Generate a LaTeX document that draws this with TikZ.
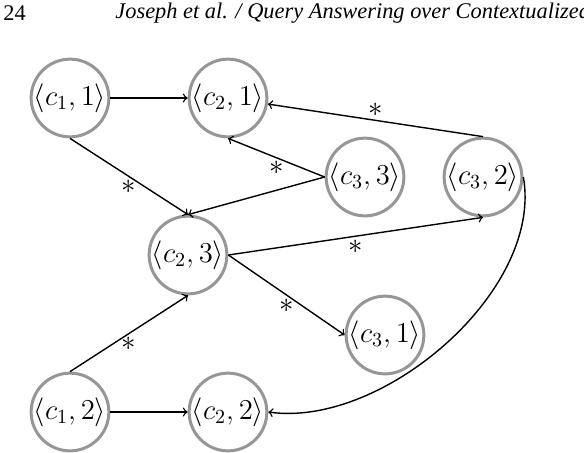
\documentclass[tikz,border=0pt]{standalone}
\usepackage{fontspec}
\newfontfamily\headfont{Liberation Serif}

\begin{document}
\begin{tikzpicture}[x=0.5pt,y=0.5pt,yscale=-1,xscale=1,
  ctx/.style={circle, draw={rgb, 255:red, 150; green, 150; blue, 150 }, line width=1.5pt, minimum size=38pt, inner sep=0pt, font=\Large},
  lbl/.style={inner sep=1.5pt, font=\Large},
  edge/.style={->, line width=0.7pt}]
\useasboundingbox (0,0) rectangle (584,452);

% Running head
\node [anchor=west, inner sep=0pt, font=\fontsize{11.2}{13}\selectfont] (page) at (3,13) {\headfont 24};
\node [anchor=west, inner sep=0pt, font=\fontsize{11.2}{13}\selectfont] (head) at (115,13) {\headfont\itshape Joseph et al. / Query Answering over Contextualized};

% Context nodes
\node [ctx] (c11) at (70,98) {$\langle c_1,1\rangle$};
\node [ctx] (c21) at (228,98) {$\langle c_2,1\rangle$};
\node [ctx] (c33) at (365,177) {$\langle c_3,3\rangle$};
\node [ctx] (c32) at (483,177) {$\langle c_3,2\rangle$};
\node [ctx] (c23) at (188,255) {$\langle c_2,3\rangle$};
\node [ctx] (c31) at (385,335) {$\langle c_3,1\rangle$};
\node [ctx] (c12) at (70,412) {$\langle c_1,2\rangle$};
\node [ctx] (c22) at (228,412) {$\langle c_2,2\rangle$};

% Edges
\draw [edge] (c11) -- (c21);
\draw [edge] (c32.north) -- node [lbl, above] {$*$} (c21);
\draw [edge] (c33.west) -- node [lbl, below] {$*$} (c21.south);
\draw [edge] (c33.west) -- (c23.north);
\draw [edge] (c11.south) -- node [lbl, below] {$*$} (c23.north);
\draw [edge] (c23.east) -- node [lbl, below] {$*$} (c32.south);
\draw [edge] (c23.east) -- node [lbl, below] {$*$} (c31.west);
\draw [edge] (c12.north) -- node [lbl, below] {$*$} (c23.south);
\draw [edge] (c12) -- (c22);
\draw [edge] (c32.east) to [out=80, in=8, looseness=0.85] (c22.east);
\end{tikzpicture}
\end{document}
